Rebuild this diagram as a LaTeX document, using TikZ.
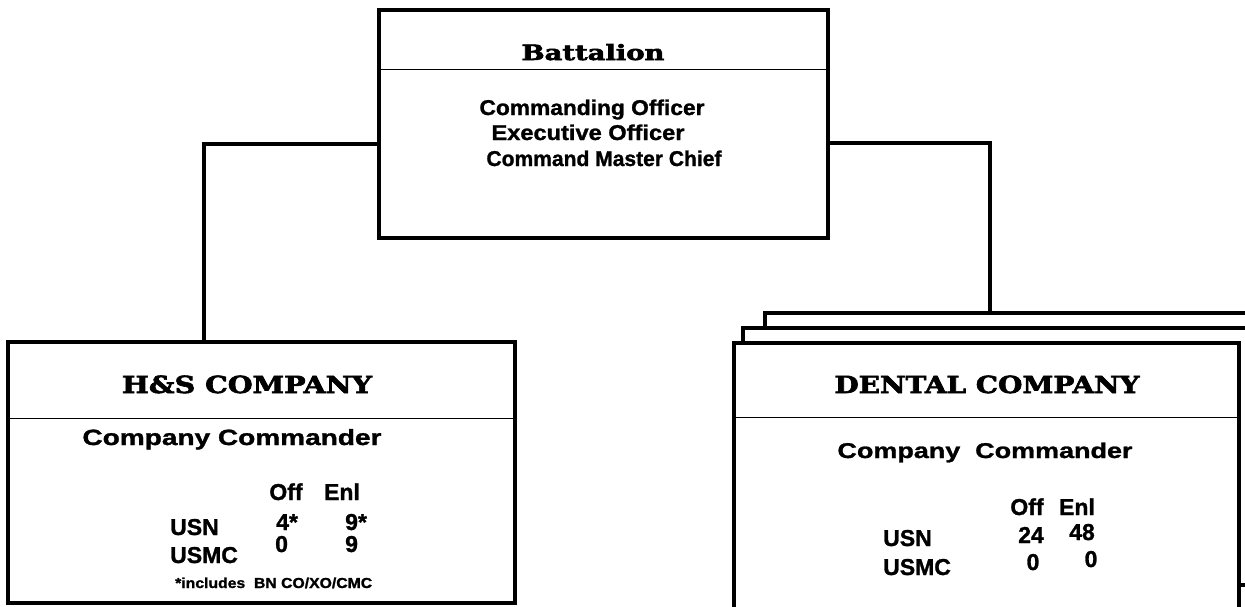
\documentclass[tikz,border=0pt]{standalone}
\usepackage{fontspec}
\setmainfont{Liberation Sans}[BoldFeatures={FakeBold=1.2}]
\newfontfamily\titlefont{DejaVu Serif}[BoldFeatures={FakeBold=2.5}]
\newcommand\rbox[3]{\resizebox{#1pt}{#2pt}{#3}}
\begin{document}
\begin{tikzpicture}[x=1pt,y=-1pt,
  box/.style={draw, line width=3.4pt, fill=white, inner sep=0pt},
  divider/.style={line width=1.6pt},
  conn/.style={line width=3.6pt},
  lbl/.style={inner sep=0pt, anchor=base, font=\bfseries\fontsize{23}{25}\selectfont},
  lbll/.style={lbl, anchor=base west},
  ttl/.style={inner sep=0pt, anchor=base, font=\titlefont\bfseries\fontsize{22}{24}\selectfont},
]
\useasboundingbox (0,0) rectangle (1245,606);
\clip (0,0) rectangle (1245,606);

% boxes
\node[box, minimum width=449pt, minimum height=228pt] (bn) at (603.5,124) {};
\node[box, minimum width=507pt, minimum height=261pt] (hs) at (261.5,472.5) {};
\node[box, minimum width=510pt, minimum height=257pt] (dback) at (1020,441.5) {};
\node[box, minimum width=512pt, minimum height=257pt] (dmid) at (999,456.5) {};
\node[box, minimum width=505pt, minimum height=282pt] (dfront) at (986.5,484) {};

% connectors
\draw[conn] ([yshift=-20pt]bn.west) -| ([xshift=-57.5pt]hs.north);
\draw[conn] ([yshift=-19pt]bn.east) -| ([xshift=-30pt]dback.north);

% dividers
\draw[divider] ([yshift=-61pt]bn.north west) -- ([yshift=-61pt]bn.north east);
\draw[divider] ([yshift=-78pt]hs.north west) -- ([yshift=-78pt]hs.north east);
\draw[divider] ([yshift=-76pt]dfront.north west) -- ([yshift=-76pt]dfront.north east);

% Battalion texts
\node[ttl] (bnt) at (593,60) {\rbox{143}{16}{Battalion}};
\node[lbl] (bn1) at (592,115) {\rbox{225}{15.5}{Commanding Officer}};
\node[lbl] (bn2) at (588,140) {\rbox{193}{15.5}{Executive Officer}};
\node[lbl] (bn3) at (604,166) {\rbox{235}{15.5}{Command Master Chief}};

% H&S texts
\node[ttl] (hst) at (247,393) {\rbox{250}{17.5}{H\&S COMPANY}};
\node[lbl] (hscc) at (232,445) {\rbox{299}{16}{Company Commander}};
\node[lbl] (hsoff) at (286,500) {Off};
\node[lbl] (hsenl) at (342,500) {Enl};
\node[lbll] (hsusn) at (170,535) {USN};
\node[lbll] (hsusnoff) at (276,530) {4*};
\node[lbll] (hsusnenl) at (345,530) {9*};
\node[lbll] (hsusmc) at (170,563) {USMC};
\node[lbll] (hsusmcoff) at (275,552) {0};
\node[lbll] (hsusmcenl) at (345,552) {9};
\node[lbll] (hsnote) at (175,588) {\rbox{197}{10.5}{*includes\ \ BN CO/XO/CMC}};

% Dental texts
\node[ttl] (dt) at (987,393) {\rbox{305}{17.5}{DENTAL COMPANY}};
\node[lbl] (dcc) at (985,458) {\rbox{295}{15.5}{Company\ \ Commander}};
\node[lbl] (doff) at (1027,515) {Off};
\node[lbl] (denl) at (1077,515) {Enl};
\node[lbll] (dusn) at (883,546) {USN};
\node[lbl] (dusnoff) at (1031,543) {24};
\node[lbl] (dusnenl) at (1082,540) {48};
\node[lbll] (dusmc) at (883,575) {USMC};
\node[lbl] (dusmcoff) at (1033,570) {0};
\node[lbl] (dusmcenl) at (1091,567) {0};
\end{tikzpicture}
\end{document}
